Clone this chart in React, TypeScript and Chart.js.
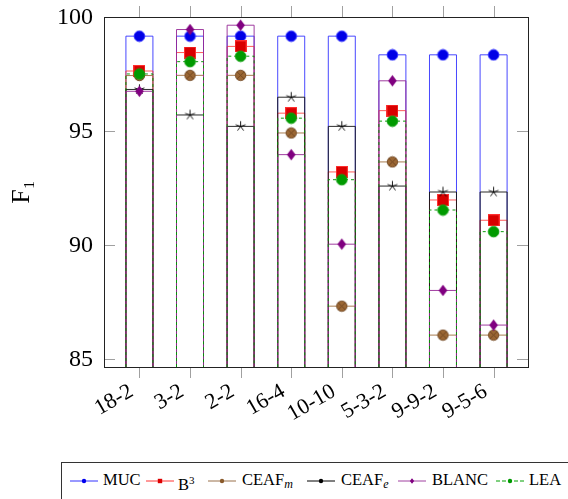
import React, { useEffect, useRef } from "react";
import { Chart, registerables } from "chart.js";

Chart.register(...registerables);

const categories = ["18-2", "3-2", "2-2", "16-4", "10-10", "5-3-2", "9-9-2", "9-5-6"];
const muc = [99.18, 99.18, 99.18, 99.18, 99.18, 98.36, 98.36, 98.36];
const b3 = [97.65, 98.46, 98.73, 95.8, 93.22, 95.91, 91.99, 91.1];
const ceafM = [97.45, 97.46, 97.46, 94.93, 87.33, 93.66, 86.06, 86.06];
const ceafE = [96.84, 95.72, 95.22, 96.5, 95.22, 92.6, 92.34, 92.34];
const blanc = [96.76, 99.47, 99.66, 93.98, 90.05, 97.22, 88.02, 86.5];
const lea = [97.52, 98.06, 98.3, 95.58, 92.88, 95.45, 91.55, 90.6];
const yTicks = [85, 90, 95, 100];

const FONT = "'Liberation Serif', 'DejaVu Serif', serif";

function mk(w: number, h: number, draw: (g: CanvasRenderingContext2D) => void) {
  const c = document.createElement("canvas");
  c.width = w;
  c.height = h;
  const g = c.getContext("2d") as CanvasRenderingContext2D;
  draw(g);
  return c;
}

function circleMarker(fill: string, stroke: string) {
  return mk(13, 13, (g) => {
    g.beginPath();
    g.arc(6.5, 6.5, 5.3, 0, Math.PI * 2);
    g.fillStyle = fill;
    g.fill();
    g.strokeStyle = stroke;
    g.lineWidth = 1;
    g.stroke();
  });
}

function squareMarker(fill: string, stroke: string) {
  return mk(12, 12, (g) => {
    g.fillStyle = fill;
    g.fillRect(1, 1, 10, 10);
    g.strokeStyle = stroke;
    g.lineWidth = 1;
    g.strokeRect(0.5, 0.5, 11, 11);
  });
}

function otimesMarker(fill: string, stroke: string) {
  return mk(13, 13, (g) => {
    g.beginPath();
    g.arc(6.5, 6.5, 5.2, 0, Math.PI * 2);
    g.fillStyle = fill;
    g.fill();
    g.strokeStyle = stroke;
    g.lineWidth = 0.9;
    g.stroke();
    const d = 5.2 * Math.SQRT1_2;
    g.beginPath();
    g.moveTo(6.5 - d, 6.5 - d);
    g.lineTo(6.5 + d, 6.5 + d);
    g.moveTo(6.5 + d, 6.5 - d);
    g.lineTo(6.5 - d, 6.5 + d);
    g.stroke();
  });
}

function starMarker(color: string) {
  return mk(13, 13, (g) => {
    g.strokeStyle = color;
    g.lineWidth = 0.9;
    g.beginPath();
    for (let k = 0; k < 5; k++) {
      const a = -Math.PI / 2 + (k * 2 * Math.PI) / 5;
      g.moveTo(6.5, 6.5);
      g.lineTo(6.5 + 5.2 * Math.cos(a), 6.5 + 5.2 * Math.sin(a));
    }
    g.stroke();
  });
}

function diamondMarker(fill: string) {
  return mk(11, 13, (g) => {
    g.beginPath();
    g.moveTo(5.5, 0.8);
    g.lineTo(9.8, 6.5);
    g.lineTo(5.5, 12.2);
    g.lineTo(1.2, 6.5);
    g.closePath();
    g.fillStyle = fill;
    g.fill();
  });
}

const outlinePlugin = {
  id: "barOutlines",
  afterDatasetDraw(chart: any, args: any) {
    const ds = chart.data.datasets[args.index];
    if (!ds.outlineColor) return;
    const ctx = chart.ctx;
    const area = chart.chartArea;
    ctx.save();
    ctx.beginPath();
    ctx.rect(area.left, area.top - 2, area.right - area.left, area.bottom - area.top + 2);
    ctx.clip();
    ctx.strokeStyle = ds.outlineColor;
    ctx.lineWidth = 1;
    ctx.setLineDash(ds.outlineDash || []);
    args.meta.data.forEach((el: any) => {
      const p = el.getProps(["x", "y", "width"], true);
      const l = p.x - p.width / 2;
      const r = p.x + p.width / 2;
      const b = area.bottom;
      ctx.beginPath();
      ctx.moveTo(l, b);
      ctx.lineTo(l, p.y);
      ctx.lineTo(r, p.y);
      ctx.lineTo(r, b);
      ctx.stroke();
    });
    ctx.restore();
  },
};

const framePlugin = {
  id: "frameTicks",
  afterDraw(chart: any) {
    const ctx = chart.ctx;
    const { left, right, top, bottom } = chart.chartArea;
    const xs = chart.scales.x;
    const ys = chart.scales.y;
    ctx.save();
    ctx.strokeStyle = "#a0a0a0";
    ctx.lineWidth = 1;
    ctx.beginPath();
    categories.forEach((_, i) => {
      const px = Math.round(xs.getPixelForValue(i)) + 0.5;
      ctx.moveTo(px, bottom);
      ctx.lineTo(px, bottom + 11);
      ctx.moveTo(px, top);
      ctx.lineTo(px, top - 11);
    });
    yTicks.forEach((v) => {
      const py = Math.round(ys.getPixelForValue(v)) + 0.5;
      ctx.moveTo(left, py);
      ctx.lineTo(left + 11, py);
      ctx.moveTo(right, py);
      ctx.lineTo(right - 11, py);
    });
    ctx.stroke();
    ctx.strokeStyle = "#222";
    ctx.strokeRect(Math.round(left) + 0.5, Math.round(top) + 0.5, Math.round(right - left), Math.round(bottom - top));

    // rotated category labels, anchored at each category tick of the x scale
    ctx.fillStyle = "#000";
    ctx.font = "22px " + FONT;
    ctx.textAlign = "right";
    ctx.textBaseline = "alphabetic";
    categories.forEach((lab, i) => {
      const px = xs.getPixelForValue(i);
      ctx.save();
      ctx.translate(px - 5, bottom + 28);
      ctx.rotate((-30 * Math.PI) / 180);
      ctx.fillText(lab, 0, 0);
      ctx.restore();
    });
    ctx.restore();
  },
};

const subStyle = { fontSize: "12px", fontStyle: "italic", verticalAlign: "-3px" } as const;

const legendItems = [
  { key: "MUC", color: "#0000ee", line: "#3333ff", dash: "", shape: "circle", x: 70, tx: 103, label: <>MUC</> },
  { key: "B3", color: "#dd0000", line: "#ff3333", dash: "", shape: "square", x: 146, tx: 178, label: <>B<sup style={{ fontSize: "11px", verticalAlign: "6px" }}>3</sup></> },
  { key: "CM", color: "#8a5a2b", line: "#99704a", dash: "", shape: "circle", x: 208, tx: 242, label: <>CEAF<sub style={subStyle}>m</sub></> },
  { key: "CE", color: "#000", line: "#000", dash: "", shape: "circle", x: 307, tx: 341, label: <>CEAF<sub style={subStyle}>e</sub></> },
  { key: "BL", color: "#800080", line: "#a040a0", dash: "", shape: "diamond", x: 398, tx: 432, label: <>BLANC</> },
  { key: "LEA", color: "#009900", line: "#00a000", dash: "4 2", shape: "circle", x: 496, tx: 529, label: <>LEA</> },
];

export default function App() {
  const ref = useRef<HTMLCanvasElement | null>(null);

  useEffect(() => {
    const canvas = ref.current;
    if (!canvas) return;

    const series = [
      { label: "MUC", values: muc, outline: "rgba(40,40,255,0.85)", dash: [] as number[], marker: circleMarker("#0000e6", "#2a2aff") },
      { label: "B3", values: b3, outline: "rgba(255,60,60,0.85)", dash: [], marker: squareMarker("#d80000", "#ff3030") },
      { label: "CEAF_m", values: ceafM, outline: "rgba(153,102,51,0.85)", dash: [], marker: otimesMarker("#9a6633", "#6e4520") },
      { label: "CEAF_e", values: ceafE, outline: "rgba(20,20,20,0.9)", dash: [], marker: starMarker("#000") },
      { label: "BLANC", values: blanc, outline: "rgba(150,40,150,0.9)", dash: [], marker: diamondMarker("#800080") },
      { label: "LEA", values: lea, outline: "rgba(0,150,0,0.95)", dash: [3, 3], marker: circleMarker("#009a00", "#10a010") },
    ];

    const barSets = series.map((s, i) => ({
      type: "bar" as const,
      label: s.label + " bars",
      data: s.values.map((v, k) => ({ x: k, y: v })),
      backgroundColor: "transparent",
      borderWidth: 0,
      barThickness: 27,
      grouped: false,
      order: 100 - i,
      outlineColor: s.outline,
      outlineDash: s.dash,
    }));

    const markerSets = series.map((s, i) => ({
      type: "line" as const,
      label: s.label,
      data: s.values.map((v, k) => ({ x: k, y: v })),
      showLine: false,
      pointStyle: s.marker,
      pointRadius: 6,
      order: 50 - i,
      clip: false,
    }));

    const chart = new Chart(canvas, {
      type: "bar",
      data: { datasets: [...barSets, ...markerSets] as any },
      options: {
        animation: false,
        responsive: false,
        events: [],
        layout: { padding: { top: 17, right: 40, left: 0, bottom: 0 } },
        plugins: { legend: { display: false }, tooltip: { enabled: false } },
        scales: {
          x: {
            type: "linear",
            offset: false,
            min: -0.7,
            max: 7.68,
            grid: { display: false, drawTicks: false, offset: false },
            border: { display: false },
            afterBuildTicks: (s: any) => {
              s.ticks = categories.map((_, i) => ({ value: i }));
            },
            afterFit: (s: any) => {
              s.height = 88;
              s.paddingLeft = 0;
              s.paddingRight = 0;
            },
            ticks: { display: false },
          },
          y: {
            type: "linear",
            min: 84.66,
            max: 100.02,
            grid: { display: false, drawTicks: false },
            border: { display: false },
            afterBuildTicks: (s: any) => {
              s.ticks = yTicks.map((v) => ({ value: v }));
            },
            afterFit: (s: any) => {
              s.width = 104;
              s.paddingTop = 0;
              s.paddingBottom = 0;
            },
            ticks: {
              padding: 11,
              color: "#000",
              font: { family: FONT, size: 24 },
              callback: (v: any) => String(v),
            },
            title: {
              display: true,
              text: "F\u2081",
              color: "#000",
              font: { family: FONT, size: 26 },
              padding: { top: 7, bottom: 0 },
            },
          },
        },
      } as any,
      plugins: [outlinePlugin, framePlugin],
    });

    return () => chart.destroy();
  }, []);

  return (
    <div style={{ position: "absolute", left: 0, top: 0, width: 568, height: 499, overflow: "hidden", background: "#fff" }}>
      <canvas ref={ref} width={568} height={455} style={{ position: "absolute", left: 0, top: 0, width: 568, height: 455 }} />
      <div
        style={{
          position: "absolute",
          left: 61,
          top: 462,
          width: 540,
          height: 50,
          border: "1px solid #333",
          boxSizing: "border-box",
        }}
      />
      {legendItems.map((it) => (
        <React.Fragment key={it.key}>
          <svg width={28} height={10} style={{ position: "absolute", left: it.x, top: 476 }}>
            <line x1={0} y1={5} x2={28} y2={5} stroke={it.line} strokeWidth={1} strokeDasharray={it.dash || undefined} />
            {it.shape === "circle" && <circle cx={14} cy={5} r={2.2} fill={it.color} />}
            {it.shape === "square" && <rect x={11.8} y={2.8} width={4.4} height={4.4} fill={it.color} />}
            {it.shape === "diamond" && <polygon points="14,2.2 16.2,5 14,7.8 11.8,5" fill={it.color} />}
          </svg>
          <div
            style={{
              position: "absolute",
              left: it.tx,
              top: 470,
              fontFamily: FONT,
              fontSize: 16.5,
              lineHeight: "20px",
              color: "#000",
              whiteSpace: "nowrap",
            }}
          >
            {it.label}
          </div>
        </React.Fragment>
      ))}
    </div>
  );
}
